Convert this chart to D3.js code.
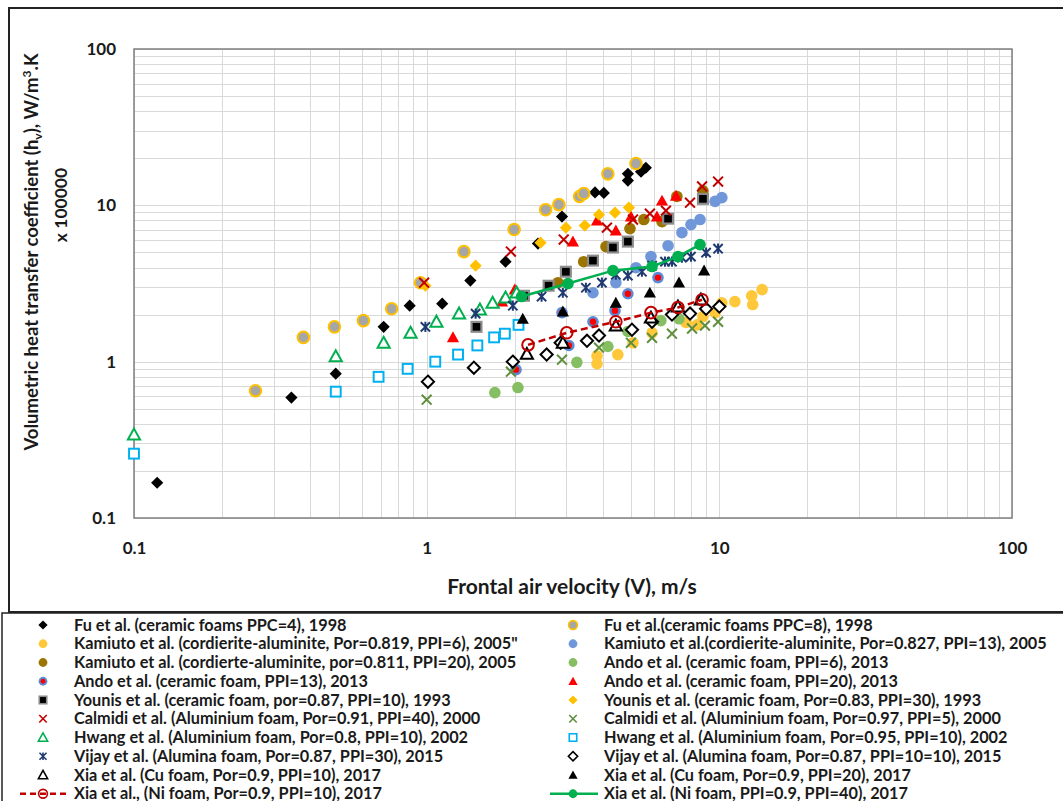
<!DOCTYPE html>
<html>
<head>
<meta charset="utf-8">
<script src="https://cdn.jsdelivr.net/npm/d3@7"></script>
<style>
  html, body { margin: 0; padding: 0; background: #fff; }
  svg { display: block; font-family: Lato, "Open Sans", sans-serif; }
</style>
</head>
<body>
<svg id="chart" width="1063" height="801"></svg>
<script>
// ---- data: [frontal velocity V (m/s), volumetric coefficient hv (x 100000 W/m3.K)] ----
const fuPPC4 = [[0.12,0.168],[0.345,0.589],[0.489,0.838],[0.713,1.67],[0.875,2.28],[1.13,2.35],[1.41,3.30],[1.86,4.36],[2.40,5.69],[2.90,8.47],[3.76,12.1],[4.03,12.0],[4.87,14.4],[4.87,15.9],[5.40,16.4],[5.61,17.4]];
const fuPPC8 = [[0.26,0.652],[0.379,1.43],[0.484,1.67],[0.608,1.83],[0.759,2.18],[0.953,3.20],[1.34,5.06],[1.99,7.0],[2.55,9.38],[2.83,10.1],[3.33,11.4],[3.44,11.9],[4.16,15.9],[5.19,18.5]];
const kamiuto819 = [[3.82,1.09],[3.82,0.97],[4.50,1.11],[5.07,1.32],[5.89,1.53],[7.69,1.78],[8.39,1.72],[8.79,1.94],[9.67,2.06],[10.2,2.38],[11.3,2.42],[12.9,2.64],[13.0,2.32],[14.0,2.89]];
const kamiuto827 = [[3.70,2.76],[4.43,3.20],[5.19,3.99],[5.84,4.70],[6.68,5.52],[7.45,6.69],[8.0,7.53],[8.59,8.11],[9.67,10.6],[10.2,11.2]];
const kamiuto811 = [[2.81,3.20],[3.44,4.36],[4.10,5.44],[4.95,7.10],[5.52,8.11],[6.37,7.87],[7.16,11.4],[8.79,12.4]];
const andoPPI6 = [[1.71,0.634],[2.05,0.683],[3.26,0.99],[4.16,1.25],[4.87,1.56],[6.31,1.83],[7.28,1.88]];
const andoPPI13 = [[2.02,0.889],[2.90,2.06],[3.06,1.27],[3.70,1.80],[4.40,2.12],[4.87,2.72],[6.17,3.45]];
const andoPPI20 = [[1.23,1.43],[1.81,2.42],[2.0,2.89],[3.16,5.86],[3.82,7.98],[4.43,6.89],[4.99,8.47],[6.12,8.47],[6.37,10.7],[7.11,11.5]];
const younis87 = [[1.48,1.67],[2.15,2.64],[2.61,3.06],[2.99,3.76],[3.70,4.43],[4.33,5.37],[4.87,5.86],[6.68,8.22],[8.79,11.0]];
const younis83 = [[0.99,3.06],[1.47,4.11],[2.45,5.77],[2.99,7.20],[3.47,7.42],[3.88,8.71],[4.40,8.98],[4.91,9.67]];
const calmidi91 = [[0.98,3.20],[1.94,5.06],[2.94,6.04],[4.13,7.20],[5.07,8.11],[5.79,8.85],[6.57,9.25],[7.94,10.4],[8.73,13.2],[9.90,14.2]];
const calmidi97 = [[1.0,0.571],[1.94,0.863],[2.90,1.03],[3.88,1.23],[4.99,1.32],[5.89,1.42],[6.89,1.51],[8.07,1.63],[8.93,1.70],[9.90,1.80]];
const hwang80 = [[0.1,0.341],[0.489,1.08],[0.713,1.32],[0.881,1.53],[1.08,1.80],[1.29,2.03],[1.52,2.15],[1.68,2.38],[1.86,2.57],[2.03,2.76]];
const hwang95 = [[0.1,0.258],[0.489,0.643],[0.685,0.80],[0.861,0.90],[1.07,1.0],[1.28,1.11],[1.49,1.27],[1.70,1.43],[1.85,1.51],[2.06,1.72]];
const vijayPPI30 = [[0.99,1.67],[1.47,2.03],[1.97,2.28],[2.47,2.61],[2.92,2.76],[3.50,2.97],[3.97,3.20],[4.43,3.60],[4.87,3.55],[5.44,3.76],[5.89,4.11],[6.52,4.36],[6.89,4.36],[7.45,4.63],[8.0,4.70],[9.01,4.98],[9.90,5.28]];
const vijayPPI10 = [[1.01,0.745],[1.45,0.915],[1.97,1.0],[2.57,1.11],[2.87,1.32],[3.53,1.36],[3.88,1.47],[5.03,1.60],[5.89,1.80],[6.89,2.0],[7.94,2.03],[9.01,2.18],[10.0,2.25]];
const xiaCu10 = [[2.20,1.12],[2.92,1.32],[4.43,1.70],[5.84,1.91],[7.22,2.25],[8.65,2.49]];
const xiaCu20 = [[2.13,1.88],[2.92,2.09],[4.43,2.38],[5.79,2.76],[7.28,3.20],[8.87,3.82]];
const xiaNi10 = [[2.22,1.28],[3.01,1.53],[4.43,1.80],[5.84,2.06],[7.22,2.22],[8.73,2.49]];
const xiaNi40 = [[2.11,2.61],[3.04,3.16],[4.33,3.82],[5.89,4.06],[7.22,4.70],[8.59,5.61]];

const tickValues = [0.1, 1, 10, 100];
const tickLabels = ["0.1", "1", "10", "100"];

const legendLabels = [
  "Fu et al. (ceramic foams PPC=4), 1998",
  "Fu et al.(ceramic foams PPC=8), 1998",
  "Kamiuto et al. (cordierite-aluminite, Por=0.819, PPI=6), 2005\"",
  "Kamiuto et al.(cordierite-aluminite, Por=0.827, PPI=13), 2005",
  "Kamiuto et al. (cordierte-aluminite, por=0.811, PPI=20), 2005",
  "Ando et al. (ceramic foam, PPI=6), 2013",
  "Ando et al. (ceramic foam, PPI=13), 2013",
  "Ando et al. (ceramic foam, PPI=20), 2013",
  "Younis et al. (ceramic foam, por=0.87, PPI=10), 1993",
  "Younis et al. (ceramic foam, Por=0.83, PPI=30), 1993",
  "Calmidi et al. (Aluminium foam, Por=0.91, PPI=40), 2000",
  "Calmidi et al. (Aluminium foam, Por=0.97, PPI=5), 2000",
  "Hwang et al. (Aluminium foam, Por=0.8, PPI=10), 2002",
  "Hwang et al. (Aluminium foam, Por=0.95, PPI=10), 2002",
  "Vijay et al. (Alumina foam, Por=0.87, PPI=30), 2015",
  "Vijay et al. (Alumina foam, Por=0.87, PPI=10=10), 2015",
  "Xia et al. (Cu foam, Por=0.9, PPI=10), 2017",
  "Xia et al. (Cu foam, Por=0.9, PPI=20), 2017",
  "Xia et al., (Ni foam, Por=0.9, PPI=10), 2017",
  "Xia et al. (Ni foam, PPI=0.9, PPI=40), 2017"
];

// series in drawing order, paired with marker style
const series = [
  { data: fuPPC4,     shape: "diamond",  fill: "#000",    stroke: "none" },
  { data: fuPPC8,     shape: "circle",   fill: "#a6a6a6", stroke: "#ffc000", sw: 2 },
  { data: kamiuto819, shape: "circle",   fill: "#ffc83a", stroke: "none" },
  { data: kamiuto827, shape: "circle",   fill: "#7097d9", stroke: "none" },
  { data: kamiuto811, shape: "circle",   fill: "#9c7400", stroke: "none" },
  { data: andoPPI6,   shape: "circle",   fill: "#86bf63", stroke: "none" },
  { data: andoPPI13,  shape: "dot",      fill: "#ff0000", stroke: "#5b8bd6" },
  { data: andoPPI20,  shape: "triangle", fill: "#ff0000", stroke: "none" },
  { data: younis87,   shape: "square",   fill: "#000",    stroke: "#8c8c8c", sw: 2.2 },
  { data: younis83,   shape: "diamond",  fill: "#ffc000", stroke: "none" },
  { data: calmidi91,  shape: "x",        fill: "none",    stroke: "#c00000", sw: 2 },
  { data: calmidi97,  shape: "x",        fill: "none",    stroke: "#5f8f3c", sw: 2 },
  { data: hwang80,    shape: "triangle", fill: "#fff",    stroke: "#00b050", sw: 2 },
  { data: hwang95,    shape: "square",   fill: "#fff",    stroke: "#00b0f0", sw: 2 },
  { data: vijayPPI30, shape: "star",     fill: "none",    stroke: "#1f3a70", sw: 2 },
  { data: vijayPPI10, shape: "diamond",  fill: "#fff",    stroke: "#000", sw: 2 },
  { data: xiaCu10,    shape: "triangle", fill: "#fff",    stroke: "#000", sw: 2 },
  { data: xiaCu20,    shape: "triangle", fill: "#000",    stroke: "none" },
  { data: xiaNi10,    shape: "circle",   fill: "none",    stroke: "#c00000", sw: 2, line: "#c00000", dash: "7,4" },
  { data: xiaNi40,    shape: "circle",   fill: "#00b050", stroke: "none", line: "#00b050" }
];

const svg = d3.select("#chart");

// frames
svg.append("rect").attr("x", 9).attr("y", 8).attr("width", 1060).attr("height", 604)
  .attr("fill", "none").attr("stroke", "#222").attr("stroke-width", 2);
svg.append("rect").attr("x", 2).attr("y", 613).attr("width", 1070).attr("height", 200)
  .attr("fill", "none").attr("stroke", "#222").attr("stroke-width", 1.5);

const x = d3.scaleLog().domain([0.1, 100]).range([134, 1012]);
const y = d3.scaleLog().domain([0.1, 100]).range([518, 49]);

// gridlines (major + minor per decade)
const grid = svg.append("g").attr("stroke", "#d9d9d9").attr("stroke-width", 1);
grid.selectAll("line.v").data(x.ticks()).join("line")
  .attr("x1", d => Math.round(x(d)) + 0.5).attr("x2", d => Math.round(x(d)) + 0.5)
  .attr("y1", y(100)).attr("y2", y(0.1));
grid.selectAll("line.h").data(y.ticks()).join("line")
  .attr("y1", d => Math.round(y(d)) + 0.5).attr("y2", d => Math.round(y(d)) + 0.5)
  .attr("x1", x(0.1)).attr("x2", x(100));

// plot area border
svg.append("rect").attr("x", x(0.1)).attr("y", y(100))
  .attr("width", x(100) - x(0.1)).attr("height", y(0.1) - y(100))
  .attr("fill", "none").attr("stroke", "#7f7f7f").attr("stroke-width", 1.5);

// axes (labels only)
const fmt = d => tickLabels[tickValues.indexOf(d)];
const xAxis = svg.append("g").attr("transform", `translate(0,${y(0.1)})`)
  .call(d3.axisBottom(x).tickValues(tickValues).tickFormat(fmt).tickSize(0).tickPadding(24));
const yAxis = svg.append("g").attr("transform", `translate(${x(0.1)},0)`)
  .call(d3.axisLeft(y).tickValues(tickValues).tickFormat(fmt).tickSize(0).tickPadding(18));
[xAxis, yAxis].forEach(a => {
  a.select(".domain").remove();
  a.selectAll("text").attr("font-family", "Lato, sans-serif").attr("font-weight", "bold")
    .attr("font-size", 17).attr("fill", "#1a1a1a");
});

// axis titles
svg.append("text").attr("x", 572).attr("y", 594).attr("text-anchor", "middle")
  .attr("font-weight", "bold").attr("font-size", 21).attr("fill", "#1a1a1a")
  .text("Frontal air velocity (V), m/s");

const yt = svg.append("text").attr("transform", "translate(38,252) rotate(-90)")
  .attr("text-anchor", "middle").attr("font-weight", "bold").attr("font-size", 18.5).attr("fill", "#1a1a1a");
yt.append("tspan").text("Volumetric heat transfer coefficient (h");
yt.append("tspan").attr("font-size", 12).attr("dy", 4).text("v");
yt.append("tspan").attr("dy", -4).text("), W/m");
yt.append("tspan").attr("font-size", 12).attr("dy", -7).text("3");
yt.append("tspan").attr("dy", 7).text(".K");

svg.append("text").attr("transform", "translate(67,205) rotate(-90)")
  .attr("text-anchor", "middle").attr("font-weight", "bold").attr("font-size", 17.5).attr("fill", "#1a1a1a")
  .text("x 100000");

// marker drawing
function drawMarker(g, s, r) {
  const sw = s.sw || 1;
  if (s.shape === "circle") {
    g.append("circle").attr("r", r).attr("fill", s.fill).attr("stroke", s.stroke).attr("stroke-width", sw);
  } else if (s.shape === "dot") {
    g.append("circle").attr("r", r).attr("fill", s.stroke);
    g.append("circle").attr("r", r * 0.55).attr("fill", s.fill);
  } else if (s.shape === "diamond") {
    const k = r * 1.05;
    g.append("path").attr("d", `M0,${-k}L${k},0L0,${k}L${-k},0Z`)
      .attr("fill", s.fill).attr("stroke", s.stroke).attr("stroke-width", sw);
  } else if (s.shape === "square") {
    const k = r * 0.85;
    g.append("rect").attr("x", -k).attr("y", -k).attr("width", 2 * k).attr("height", 2 * k)
      .attr("fill", s.fill).attr("stroke", s.stroke).attr("stroke-width", sw);
  } else if (s.shape === "triangle") {
    const k = r * 1.05;
    g.append("path").attr("d", `M0,${-k}L${k},${k * 0.8}L${-k},${k * 0.8}Z`)
      .attr("fill", s.fill).attr("stroke", s.stroke).attr("stroke-width", sw).attr("stroke-linejoin", "miter");
  } else if (s.shape === "x") {
    const k = r * 0.85;
    g.append("path").attr("d", `M${-k},${-k}L${k},${k}M${k},${-k}L${-k},${k}`)
      .attr("stroke", s.stroke).attr("stroke-width", sw).attr("fill", "none");
  } else if (s.shape === "star") {
    const k = r * 0.8;
    g.append("path").attr("d", `M${-k},${-k}L${k},${k}M${k},${-k}L${-k},${k}M0,${-k * 1.1}L0,${k * 1.1}`)
      .attr("stroke", s.stroke).attr("stroke-width", sw).attr("fill", "none");
  }
}

const plot = svg.append("g");
const lineGen = d3.line().x(d => x(d[0])).y(d => y(d[1]));
series.forEach(s => {
  const layer = plot.append("g");
  if (s.line) {
    layer.append("path").attr("d", lineGen(s.data)).attr("fill", "none")
      .attr("stroke", s.line).attr("stroke-width", 2.5).attr("stroke-dasharray", s.dash || null);
  }
  layer.selectAll("g").data(s.data).join("g")
    .attr("transform", d => `translate(${x(d[0])},${y(d[1])})`)
    .each(function () { drawMarker(d3.select(this), s, 5.8); });
});

// legend: two columns, filled row by row
const legend = svg.append("g");
series.forEach((s, i) => {
  const col = i % 2, row = Math.floor(i / 2);
  const mx = col === 0 ? 43 : 573;
  const cy = 625 + row * 18.75;
  const g = legend.append("g").attr("transform", `translate(${mx},${cy})`);
  if (s.line) {
    g.append("line").attr("x1", -23).attr("x2", 25).attr("y1", 0).attr("y2", 0)
      .attr("stroke", s.line).attr("stroke-width", 2.5).attr("stroke-dasharray", s.dash ? "6,4" : null);
  }
  drawMarker(g, Object.assign({}, s, { sw: Math.min(s.sw || 1, 1.6) }), 4.4);
  legend.append("text").attr("x", mx + 31).attr("y", cy + 5.5)
    .attr("font-weight", "bold").attr("font-size", 16.3).attr("fill", "#1a1a1a")
    .text(legendLabels[i]);
});
</script>
</body>
</html>
